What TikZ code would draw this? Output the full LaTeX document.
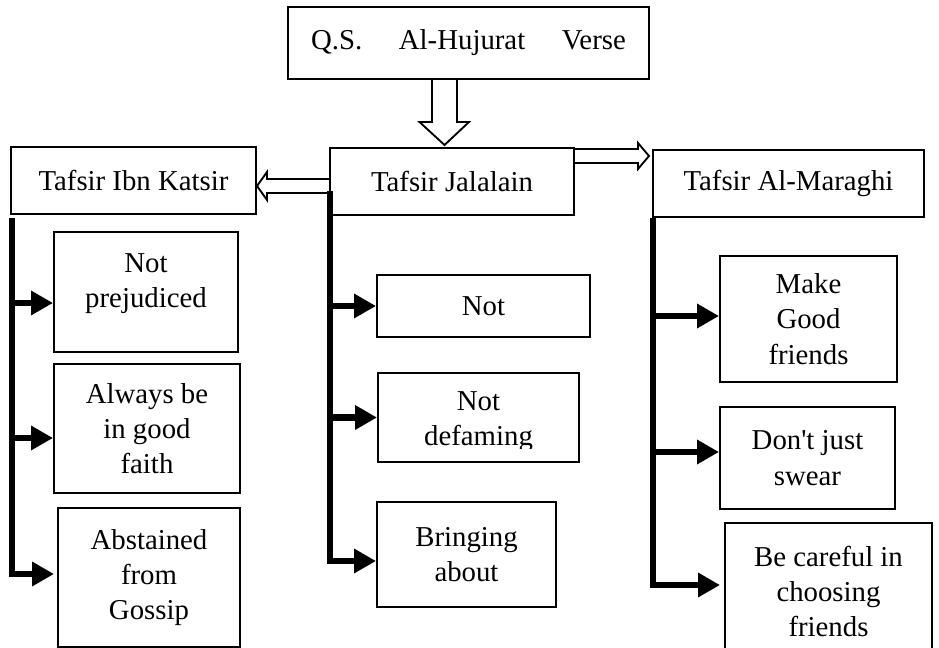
\documentclass[tikz,border=0pt]{standalone}
\usepackage{fontspec}
\setmainfont{Liberation Serif}[Ligatures=TeXOff]
\usetikzlibrary{arrows.meta,calc}
\begin{document}
\begin{tikzpicture}[x=0.75pt,y=-0.75pt,
  box/.style={draw, line width=1.5pt, inner sep=0pt, align=center,
    font=\fontsize{21.6pt}{26.5pt}\selectfont},
  sz/.style 2 args={minimum width=#1*0.75pt, minimum height=#2*0.75pt},
  hollow/.style={draw, line width=1.4pt, line join=miter},
  busline/.style={line width=4pt},
  busarrow/.style={line width=5pt, -{Triangle[length=16.5pt,width=17.5pt]}},
]
\clip (0,0) rectangle (939,648);
\fill[white] (0,0) rectangle (939,648);

% header boxes
\node[box, sz={361}{72}] (qs) at (468.5,43) {Q.S.\hspace{27.4pt}Al-Hujurat\hspace{27.4pt}Verse};
\node[box, sz={244}{67}] (jal) at (452,181.5) {Tafsir Jalalain};
\node[box, sz={245}{67}] (ibn) at (133.5,180.5) {Tafsir Ibn Katsir};
\node[box, sz={271}{67}] (mar) at (788.5,183.5) {Tafsir Al-Maraghi};

% left column
\node[box, sz={184}{120}, text depth=16.7pt] (np) at (146,292) {Not\\prejudiced};
\node[box, sz={186}{129}] (ab) at (147,428.5) {Always be\\in good\\faith};
\node[box, sz={182}{139}] (ag) at (149,577.5) {Abstained\\from\\Gossip};

% middle column
\node[box, sz={213}{62}] (nt) at (483.5,306) {Not};
\node[box, sz={201}{89}] (nd) at (478.5,417.5) {};
\begin{scope}
  \clip (380,375) rectangle (577,449);
  \node[box, draw=none] (ndt) at ($(nd.center)+(0,4)$) {Not\\defaming};
\end{scope}
\node[box, sz={179}{105}] (ba) at (466.5,554.5) {Bringing\\about};

% right column
\node[box, sz={177}{126}] (mg) at (808.5,319) {Make\\Good\\friends};
\node[box, sz={175}{102}] (dj) at (807.5,458) {Don't just\\swear};
\node[box, sz={207}{137}] (bc) at (828.5,591.5) {Be careful in\\choosing\\friends};

% hollow block arrows
\draw[hollow] ($(qs.south)+(-36.5,0)$) -- ($(qs.south)+(-36.5,42)$) -- ($(qs.south)+(-49,42)$)
  -- ($(jal.north)+(-7.5,-2)$) -- ($(qs.south)+(0.5,42)$) -- ($(qs.south)+(-11.5,42)$)
  -- ($(qs.south)+(-11.5,0)$);
\draw[hollow] ($(jal.west)+(0,-2.5)$) -- ($(jal.west)+(-62,-2.5)$) -- ($(jal.west)+(-62,-9.5)$)
  -- ($(ibn.east)+(0,5.5)$) -- ($(jal.west)+(-62,18.5)$) -- ($(jal.west)+(-62,11.5)$)
  -- ($(jal.west)+(0,11.5)$);
\draw[hollow] ($(jal.east)+(0,-32.5)$) -- ($(jal.east)+(63,-32.5)$) -- ($(jal.east)+(63,-38.5)$)
  -- ($(mar.west)+(-3,-27.5)$) -- ($(jal.east)+(63,-12.5)$) -- ($(jal.east)+(63,-18.5)$)
  -- ($(jal.east)+(0,-18.5)$);

% left bus
\coordinate (lt) at ($(ibn.south west)+(2,3)$);
\draw[busline] (lt) -- ($(lt |- ag.west)+(0,-0.5)$);
\draw[busarrow] ($(lt |- np.west)+(0,11)$) -- ($(np.west)+(0,11)$);
\draw[busarrow] ($(lt |- ab.west)+(0,9.5)$) -- ($(ab.west)+(0,9.5)$);
\draw[busarrow] ($(lt |- ag.west)+(0,-3.5)$) -- ($(ag.west)+(-3,-3.5)$);

% middle bus
\coordinate (mt) at ($(jal.west)+(1,9.5)$);
\draw[busline] (mt) -- ($(mt |- ba.west)+(0,9)$);
\draw[busarrow] (mt |- nt.west) -- (nt.west);
\draw[busarrow] (mt |- nd.west) -- (nd.west);
\draw[busarrow] ($(mt |- ba.west)+(0,6.5)$) -- ($(ba.west)+(0,6.5)$);

% right bus
\coordinate (rt) at ($(mar.south west)+(1,0)$);
\draw[busline] (rt) -- ($(rt |- bc.west)+(0,-3.5)$);
\draw[busarrow] ($(rt |- mg.west)+(0,-3)$) -- ($(mg.west)+(0,-3)$);
\draw[busarrow] ($(rt |- dj.west)+(0,-6)$) -- ($(dj.west)+(0,-6)$);
\draw[busarrow] ($(rt |- bc.west)+(0,-6.5)$) -- ($(bc.west)+(-4,-6.5)$);
\end{tikzpicture}
\end{document}
